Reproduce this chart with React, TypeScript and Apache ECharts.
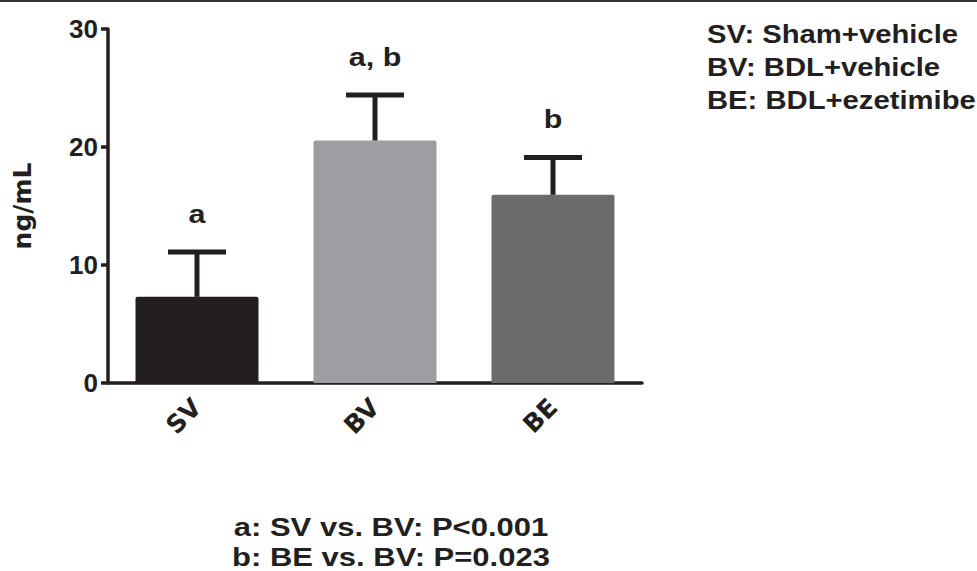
import React, { useEffect, useRef } from "react";
import * as echarts from "echarts";

const categories = ["SV", "BV", "BE"];
const means = [7.3, 20.55, 15.95];
const errors = [3.8, 3.85, 3.15];
const sigLabels = ["a", "a, b", "b"];
const barColors = ["#231f20", "#9d9ea2", "#6b6b6d"];
const yTicks = { min: 0, max: 30, interval: 10 };
const legendLines = ["SV: Sham+vehicle", "BV: BDL+vehicle", "BE: BDL+ezetimibe"];
const footLines = ["a: SV vs. BV: P<0.001", "b: BE vs. BV: P=0.023"];
const yName = "ng/mL";

const INK = "#231f20";
const WIDE = "'DejaVu Sans', sans-serif";
const NARROW = "'Liberation Sans', Arial, sans-serif";

export default function App() {
  const ref = useRef<HTMLDivElement>(null);
  useEffect(() => {
    if (!ref.current) return;
    const chart = echarts.init(ref.current, null, { renderer: "svg" });
    const option: any = {
      animation: false,
      backgroundColor: "#ffffff",
      grid: { left: 108, right: 335, top: 29, bottom: 188, containLabel: false },
      xAxis: {
        type: "category",
        data: categories,
        axisLine: { lineStyle: { color: INK, width: 3.5 } },
        axisTick: { alignWithLabel: true, length: 9, lineStyle: { color: INK, width: 3.5 } },
        axisLabel: {
          rotate: 45,
          margin: 20,
          color: INK,
          fontFamily: WIDE,
          fontWeight: "bold",
          fontSize: 25,
        },
      },
      yAxis: {
        type: "value",
        min: yTicks.min,
        max: yTicks.max,
        interval: yTicks.interval,
        name: yName,
        nameLocation: "middle",
        nameRotate: 90,
        nameGap: 73,
        nameTextStyle: { color: INK, fontFamily: WIDE, fontWeight: "bold", fontSize: 25 },
        splitLine: { show: false },
        axisLine: { show: true, lineStyle: { color: INK, width: 3.5 } },
        axisTick: { show: true, length: 7, lineStyle: { color: INK, width: 3.5 } },
        axisLabel: {
          margin: 10,
          color: INK,
          fontFamily: NARROW,
          fontWeight: "bold",
          fontSize: 26,
        },
      },
      series: [
        {
          type: "bar",
          barWidth: 123,
          data: means.map((v, i) => ({
            value: v,
            itemStyle: { color: barColors[i], borderRadius: [2, 2, 0, 0] },
          })),
          z: 2,
        },
        {
          type: "custom",
          z: 3,
          data: means.map((m, i) => [i, m, errors[i]]),
          renderItem: (params: any, api: any) => {
            const idx = api.value(0);
            const m = api.value(1);
            const e = api.value(2);
            const base = api.coord([idx, m]);
            const top = api.coord([idx, m + e]);
            const capHalf = 29;
            return {
              type: "group",
              children: [
                {
                  type: "line",
                  shape: { x1: base[0], y1: base[1], x2: top[0], y2: top[1] },
                  style: { stroke: INK, lineWidth: 5 },
                },
                {
                  type: "line",
                  shape: { x1: top[0] - capHalf, y1: top[1], x2: top[0] + capHalf, y2: top[1] },
                  style: { stroke: INK, lineWidth: 5 },
                },
                {
                  type: "text",
                  x: top[0],
                  y: top[1] - 38,
                  scaleX: 1.22,
                  style: {
                    text: sigLabels[params.dataIndex],
                    x: 0,
                    y: 0,
                    align: "center",
                    verticalAlign: "middle",
                    fill: INK,
                    font: `bold 25px ${NARROW}`,
                  },
                },
              ],
            };
          },
        },
      ],
      graphic: [
        {
          type: "line",
          shape: { x1: 0, y1: 1, x2: 977, y2: 1 },
          style: { stroke: "#333333", lineWidth: 2 },
        },
        ...legendLines.map((t, i) => ({
          type: "text",
          x: 707,
          y: 34 + i * 33,
          scaleX: 1.17,
          style: {
            text: t,
            fill: INK,
            font: `bold 25px ${NARROW}`,
            align: "left",
            verticalAlign: "middle",
          },
        })),
        ...footLines.map((t, i) => ({
          type: "text",
          x: 391,
          y: 528 + i * 30,
          scaleX: 1.24,
          style: {
            text: t,
            fill: INK,
            font: `bold 25px ${NARROW}`,
            align: "center",
            verticalAlign: "middle",
          },
        })),
      ],
    };
    chart.setOption(option);
    return () => chart.dispose();
  }, []);
  return (
    <div
      ref={ref}
      style={{ position: "fixed", left: 0, top: 0, width: 977, height: 571, background: "#fff" }}
    />
  );
}
